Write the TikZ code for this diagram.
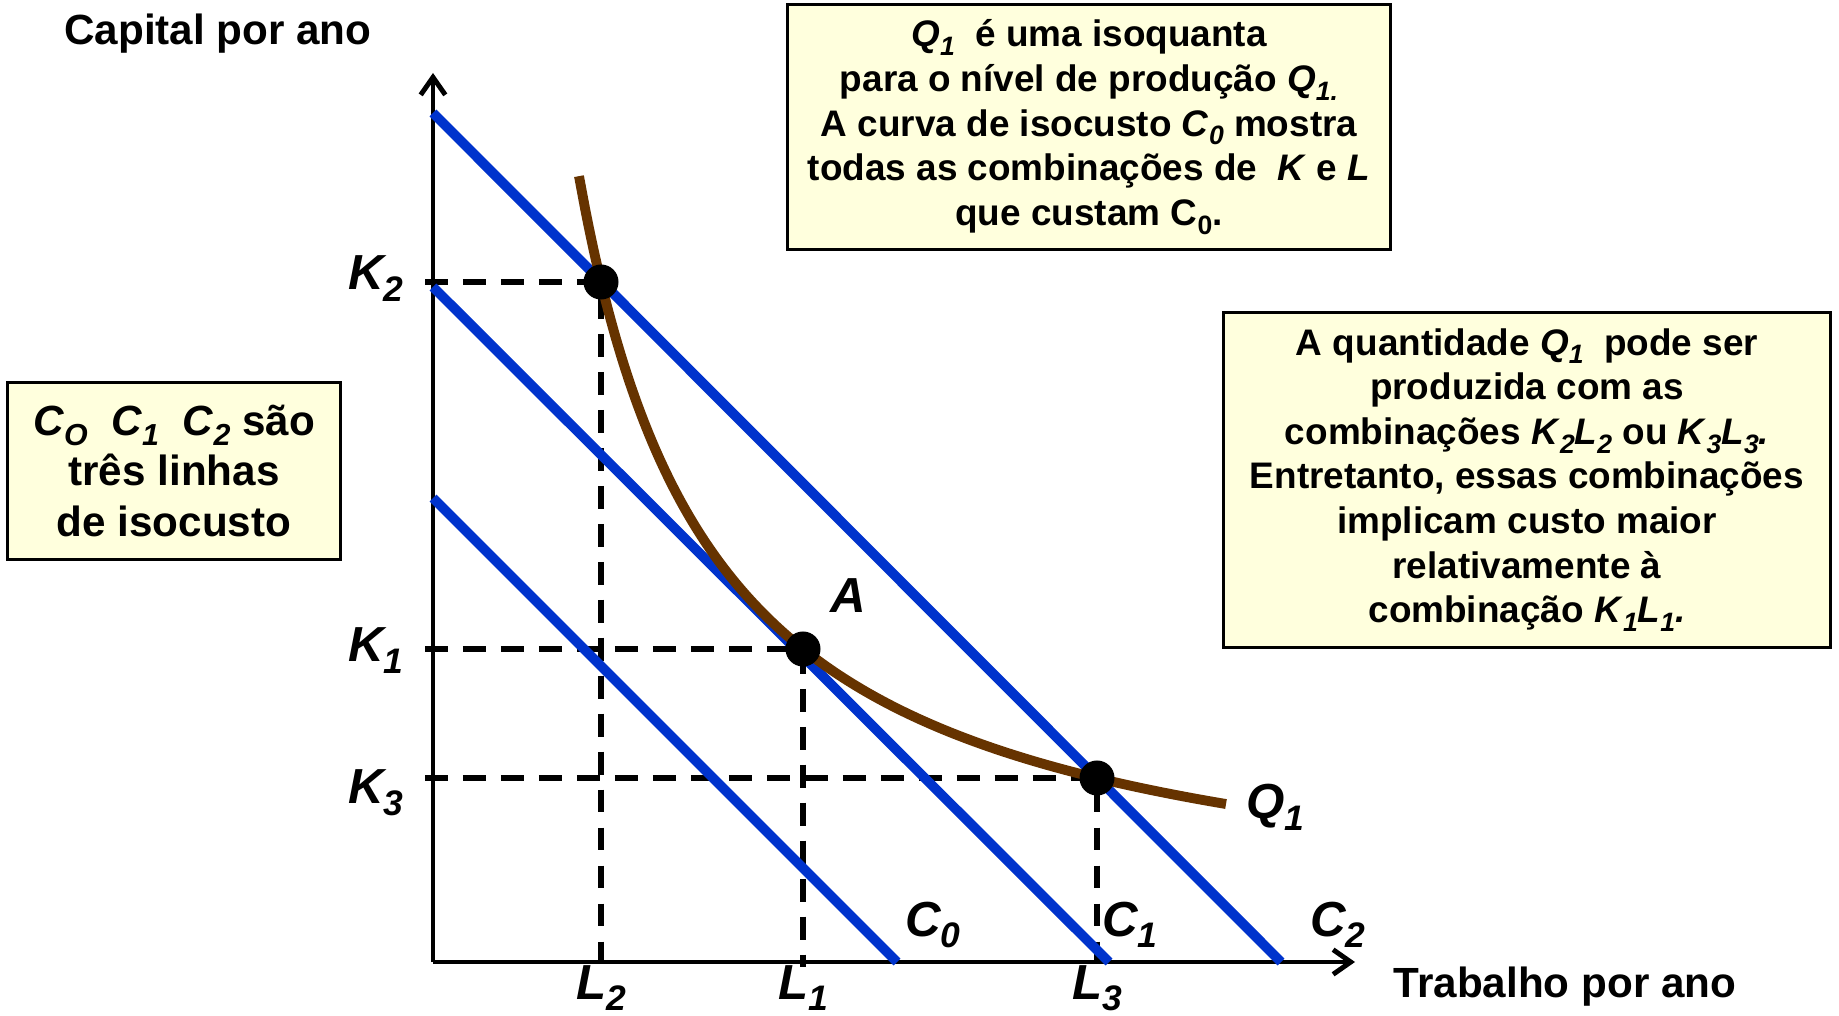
\documentclass[tikz,border=0pt]{standalone}
\usepackage{fontspec}
\setmainfont{Liberation Sans}
\usetikzlibrary{arrows.meta,calc}

\definecolor{costblue}{RGB}{0,51,204}
\definecolor{isobrown}{RGB}{102,51,0}
\definecolor{notefill}{RGB}{255,255,221}

% lowered subscript, and italic letter with italic subscript
\newcommand{\lowsub}[1]{\raisebox{-0.45ex}{\scalebox{0.72}{#1}}}
\newcommand{\ix}[2]{\textit{#1}\lowsub{\textit{#2}}}

\begin{document}
\begin{tikzpicture}[x=0.01cm, y=-0.01cm,
    axis/.style={line width=1.4pt, -{Straight Barb[length=5pt,width=7pt]}},
    isocost/.style={costblue, line width=2.8pt},
    isoquant/.style={isobrown, line width=2.8pt},
    guide/.style={line width=1.6pt, dash pattern=on 6.5pt off 4.3pt},
    dot/.style={circle, fill=black, inner sep=0pt, minimum size=0.35cm},
    lab/.style={font=\fontsize{14}{16}\selectfont\bfseries\itshape, inner sep=0pt},
    title/.style={font=\fontsize{12}{14}\selectfont\bfseries, inner sep=0pt},
    note/.style={draw, line width=0.8pt, fill=notefill, align=center, inner sep=0pt,
        font=\fontsize{10.5}{12.7}\selectfont\bfseries}]

    \useasboundingbox (0,0) rectangle (1839,1016);

    % Define the axes
    \coordinate (O) at (433,962);
    \coordinate (Ytop) at (433,73);
    \coordinate (Xend) at (1355,962);

    % Define the isocost lines
    \coordinate (C0a) at (433,498);
    \coordinate (C0b) at (897,962);
    \coordinate (C1a) at (433,287);
    \coordinate (C1b) at (1109,962);
    \coordinate (C2a) at (433,113);
    \coordinate (C2b) at (1281,962);

    % Define the points on the isoquant
    \coordinate (P2) at (601,282);
    \coordinate (A) at (803,649);
    \coordinate (P3) at (1097,778);

    % Draw the dashed guides
    \draw[guide] ($(O|-P2)+(-8,0)$) -- (P2) -- (P2|-O);
    \draw[guide] ($(O|-A)+(-8,0)$) -- (A) -- ($(A|-O)+(0,5)$);
    \draw[guide] ($(O|-P3)+(-8,0)$) -- (P3) -- (P3|-O);

    % Draw the axes
    \draw[axis] (O) -- (Ytop);
    \draw[axis] (O) -- (Xend);

    % Draw the isocost lines
    \draw[isocost] (C0a) -- (C0b);
    \draw[isocost] (C1a) -- (C1b);
    \draw[isocost] (C2a) -- (C2b);

    % Draw the isoquant (hyperbola through P2, A and P3)
    \draw[isoquant] plot[domain=146:793, samples=90, smooth]
        ({433+\x}, {935.9-1032.48/((\x-10.1)/100)});

    % Draw the points
    \node[dot] (dot2) at (P2) {};
    \node[dot] (dot1) at (A) {};
    \node[dot] (dot3) at (P3) {};

    % Place the labels
    \node[lab, anchor=base east] (k2) at (404,290) {\ix{K}{2}};
    \node[lab, anchor=base east] (k1) at (404,662) {\ix{K}{1}};
    \node[lab, anchor=base east] (k3) at (404,804) {\ix{K}{3}};
    \node[lab, anchor=base] (l2) at (601,999) {\ix{L}{2}};
    \node[lab, anchor=base] (l1) at (803,999) {\ix{L}{1}};
    \node[lab, anchor=base] (l3) at (1097,999) {\ix{L}{3}};
    \node[lab, anchor=base] (c0) at (933,936) {\ix{C}{0}};
    \node[lab, anchor=base] (c1) at (1130,936) {\ix{C}{1}};
    \node[lab, anchor=base] (c2) at (1338,936) {\ix{C}{2}};
    \node[lab, anchor=base] (q1) at (1275,819) {\ix{Q}{1}};
    \node[lab, anchor=base] (alab) at (848,613) {A};

    % Axis titles
    \node[title, anchor=base] (ytitle) at (218,45) {Capital por ano};
    \node[title, anchor=base] (xtitle) at (1565,998) {Trabalho por ano};

    % Notes
    \node[note, minimum width=6.02cm, minimum height=2.45cm] (note1) at (1089,127)
        {\ix{Q}{1}\ \ é uma isoquanta\\
         para o nível de produção \ix{Q}{1.}\\
         A curva de isocusto \ix{C}{0} mostra\\
         todas as combinações de \ \textit{K} e \textit{L}\\
         que custam C\lowsub{0}.};
    \node[note, minimum width=6.06cm, minimum height=3.34cm] (note2) at (1527,480)
        {A quantidade \ix{Q}{1}\ \ pode ser\\
         produzida com as\\
         combinações \ix{K}{2}\ix{L}{2} ou \ix{K}{3}\ix{L}{3}\textit{.}\\
         Entretanto, essas combinações\\
         implicam custo maior\\
         relativamente à\\
         combinação \ix{K}{1}\ix{L}{1}\textit{.}};
    \node[note, minimum width=3.32cm, minimum height=1.77cm,
        font=\fontsize{12}{14.5}\selectfont\bfseries] (note3) at (174,471)
        {\ix{C}{O}\ \ \ix{C}{1}\ \ \ix{C}{2} são\\
         três linhas\\
         de isocusto};

\end{tikzpicture}
\end{document}
